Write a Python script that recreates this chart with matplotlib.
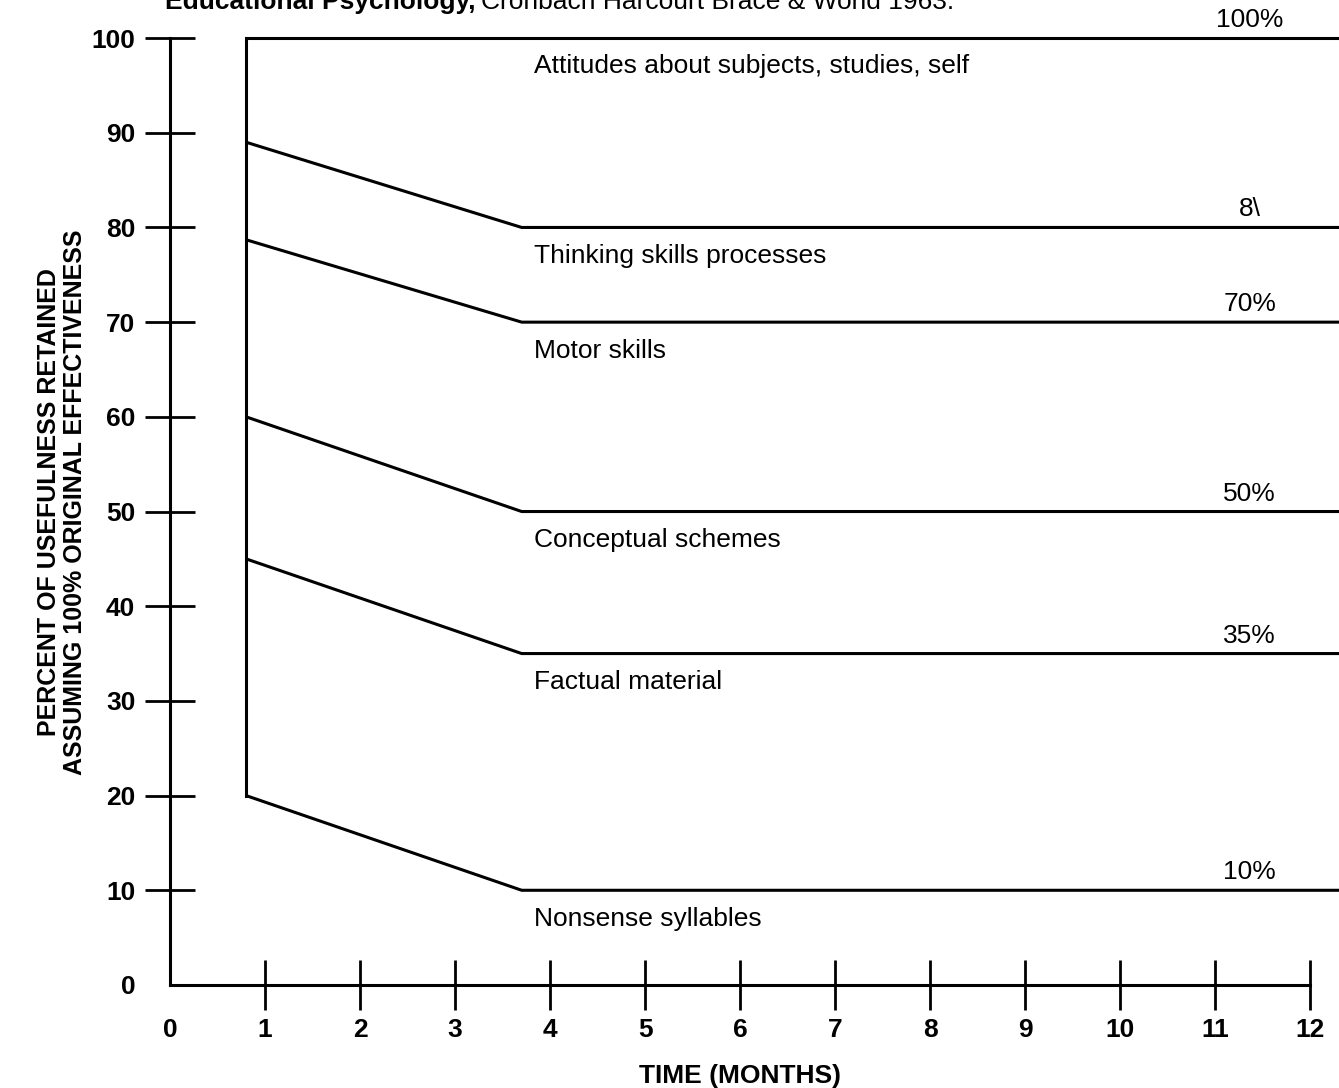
import numpy as np
import matplotlib
matplotlib.use('Agg')
import matplotlib.pyplot as plt

plt.rcParams['font.family'] = ['Liberation Sans', 'DejaVu Sans']

# Dades llegides de la figura
x_inici = 0.8          # mes on comencen les corbes
x_colze = 3.7          # mes on les corbes es fan planes
x_final = 12.3         # final de les línies (vora dreta)
valors_inici = [100, 89, 78.7, 60, 45, 20]
valors_final = [100, 80, 70, 50, 35, 10]
categories = ['Attitudes about subjects, studies, self',
              'Thinking skills processes',
              'Motor skills',
              'Conceptual schemes',
              'Factual material',
              'Nonsense syllables']
etiquetes_final = ['100%', '8\\', '70%', '50%', '35%', '10%']
mesos = np.arange(0, 13)
percents = np.arange(0, 101, 10)

fig = plt.figure(figsize=(13.39, 10.88), dpi=100)
ax = fig.add_axes([0.127, 0.0947, 0.873, 0.8703])

# Corbes de retenció
for v0, v1 in zip(valors_inici, valors_final):
    ax.plot([x_inici, x_colze, x_final], [v0, v1, v1], color='black', lw=2.2,
            solid_capstyle='butt', clip_on=False)
ax.plot([x_inici, x_inici], [min(valors_inici), max(valors_inici)], color='black',
        lw=2.2, clip_on=False)

# Etiquetes de categoria i percentatges
for v1, cat, lab in zip(valors_final, categories, etiquetes_final):
    ax.text(3.83, v1 - 3.0, cat, fontsize=19, ha='left', va='center')
    ax.text(11.36, v1 + 1.9, lab, fontsize=19, ha='center', va='center', clip_on=False)

ax.set_xlim(0, x_final)
ax.set_ylim(0, 100)
for s in ['top', 'right']:
    ax.spines[s].set_visible(False)
ax.spines['left'].set_bounds(0, 100)
ax.spines['bottom'].set_bounds(0, 12)
ax.spines['left'].set_linewidth(2.2)
ax.spines['bottom'].set_linewidth(2.2)

ax.set_xticks(mesos)
ax.set_yticks(percents)
ax.tick_params(axis='both', direction='inout', length=36, width=2.0,
               labelsize=19)
ax.tick_params(axis='x', pad=6)
ax.tick_params(axis='y', pad=7)
for t in ax.get_xticklabels() + ax.get_yticklabels():
    t.set_fontweight('bold')
ax.xaxis.get_major_ticks()[0].tick1line.set_visible(False)
ax.yaxis.get_major_ticks()[0].tick1line.set_visible(False)

ax.set_xlabel('TIME (MONTHS)', fontsize=19, fontweight='bold')
ax.xaxis.set_label_coords(6.0 / x_final, -0.083)
ax.set_ylabel('PERCENT OF USEFULNESS RETAINED\nASSUMING 100% ORIGINAL EFFECTIVENESS',
              fontsize=18, fontweight='bold', linespacing=1.1)
ax.yaxis.set_label_coords(-0.071, 0.51)

# Títol retallat a dalt
t1 = fig.text(0.123, 0.9915, 'Educational Psychology,', fontsize=19, fontweight='bold',
              va='baseline', ha='left')
fig.canvas.draw()
bb = t1.get_window_extent(fig.canvas.get_renderer())
fig.text(bb.x1 / fig.bbox.width + 0.004, 0.9915, 'Cronbach Harcourt Brace & World 1963.',
         fontsize=19, va='baseline', ha='left')

fig.savefig('out.png', dpi=100)
